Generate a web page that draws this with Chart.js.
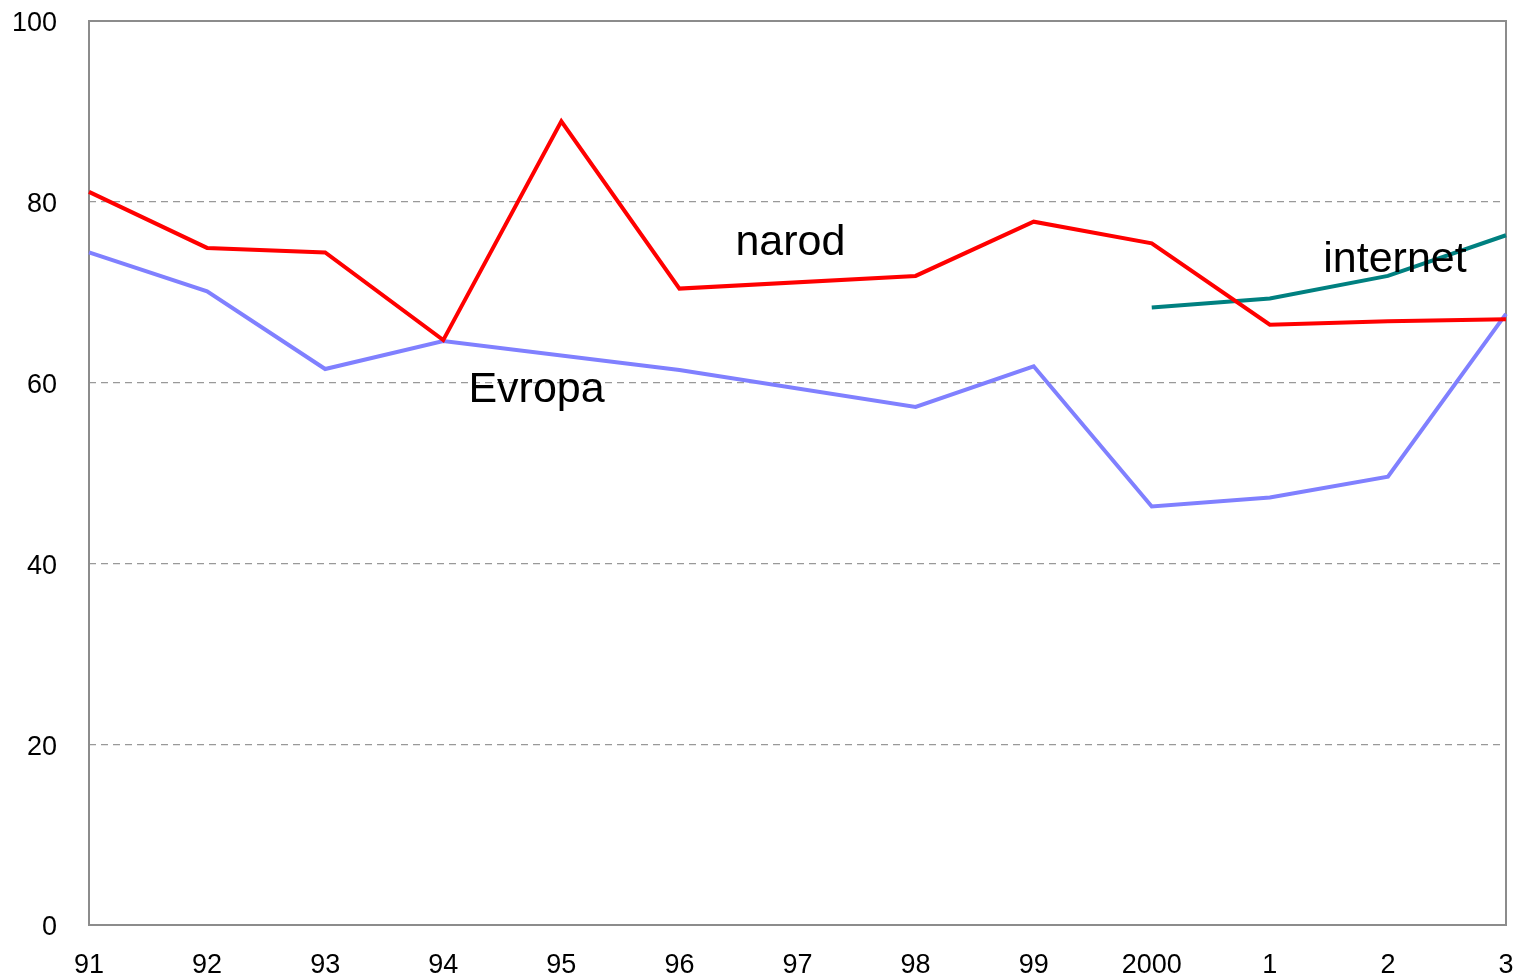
<!DOCTYPE html>
<html>
<head>
<meta charset="utf-8">
<script src="https://cdn.jsdelivr.net/npm/chart.js@4.4.1/dist/chart.umd.min.js"></script>
<style>
  html, body { margin: 0; padding: 0; background: #fff; }
  #wrap { width: 1518px; height: 977px; }
</style>
</head>
<body>
<div id="wrap"><canvas id="line-chart"></canvas></div>
<script>
const years = ['91', '92', '93', '94', '95', '96', '97', '98', '99', '2000', '1', '2', '3'];
const narod = [81.1, 74.9, 74.4, 64.7, 88.9, 70.4, null, 71.8, 77.8, 75.4, 66.4, 66.8, 67.0];
const evropa = [74.4, 70.1, 61.5, 64.6, null, 61.4, null, 57.3, 61.8, 46.3, 47.3, 49.6, 67.6];
const internet = [null, null, null, null, null, null, null, null, null, 68.3, 69.3, 71.8, 76.3];
const yTicks = [0, 20, 40, 60, 80, 100];

// series names written inside the plot: [text, category position, value]
const seriesLabels = [
  ['narod', 5.94, 75.4],
  ['Evropa', 3.79, 59.2],
  ['internet', 11.06, 73.6],
];

const fontFamily = '"Liberation Sans", Arial, sans-serif';

const frame = {
  id: 'frame',
  beforeDatasetsDraw(chart) {
    const a = chart.chartArea;
    const ctx = chart.ctx;
    ctx.save();
    ctx.strokeStyle = '#8c8c8c';
    ctx.lineWidth = 2;
    ctx.strokeRect(a.left, a.top, a.right - a.left, a.bottom - a.top);
    ctx.restore();
  },
  afterDatasetsDraw(chart) {
    const ctx = chart.ctx;
    const x = chart.scales.x;
    const y = chart.scales.y;
    ctx.save();
    ctx.fillStyle = '#000';
    ctx.font = '43px ' + fontFamily;
    ctx.textAlign = 'center';
    ctx.textBaseline = 'middle';
    seriesLabels.forEach(l => {
      const px = x.left + (x.right - x.left) * l[1] / (years.length - 1);
      ctx.fillText(l[0], px, y.getPixelForValue(l[2]));
    });
    ctx.restore();
  }
};

window.addEventListener('load', () => {
  const ctx = document.getElementById('line-chart').getContext('2d');
  window.myLineChart = new Chart(ctx, {
    type: 'line',
    data: {
      labels: years,
      datasets: [
        { label: 'narod', data: narod, borderColor: '#ff0000', borderWidth: 4, pointRadius: 0, spanGaps: true, tension: 0 },
        { label: 'Evropa', data: evropa, borderColor: '#8080ff', borderWidth: 4, pointRadius: 0, spanGaps: true, tension: 0 },
        { label: 'internet', data: internet, borderColor: '#008080', borderWidth: 4, pointRadius: 0, spanGaps: false, tension: 0 },
      ],
    },
    options: {
      responsive: true,
      maintainAspectRatio: false,
      animation: false,
      events: [],
      plugins: {
        legend: { display: false },
        tooltip: { enabled: false },
        title: { display: false },
      },
      layout: {
        padding: { left: 0, right: 12, top: 21, bottom: 0 },
      },
      scales: {
        x: {
          offset: false,
          grid: { display: false, drawTicks: false },
          border: { display: false },
          ticks: {
            color: '#000',
            font: { family: fontFamily, size: 27 },
            padding: 24,
            maxRotation: 0,
            autoSkip: false,
          },
          afterFit(scale) {
            scale.height = 52;
            scale.paddingLeft = 0;
            scale.paddingRight = 0;
          },
        },
        y: {
          min: 0,
          max: 100,
          afterBuildTicks(scale) { scale.ticks = yTicks.map(v => ({ value: v })); },
          grid: {
            drawTicks: false,
            color: c => (c.tick.value === 0 || c.tick.value === 100) ? 'rgba(0,0,0,0)' : '#999999',
            lineWidth: 1.2,
          },
          border: { display: false, dash: [7, 5] },
          ticks: {
            color: '#000',
            font: { family: fontFamily, size: 27 },
            padding: 32,
            labelOffset: 3,
          },
          afterFit(scale) {
            scale.width = 89;
            scale.paddingTop = 0;
            scale.paddingBottom = 0;
          },
        },
      },
    },
    plugins: [frame],
  });
});
</script>
</body>
</html>
